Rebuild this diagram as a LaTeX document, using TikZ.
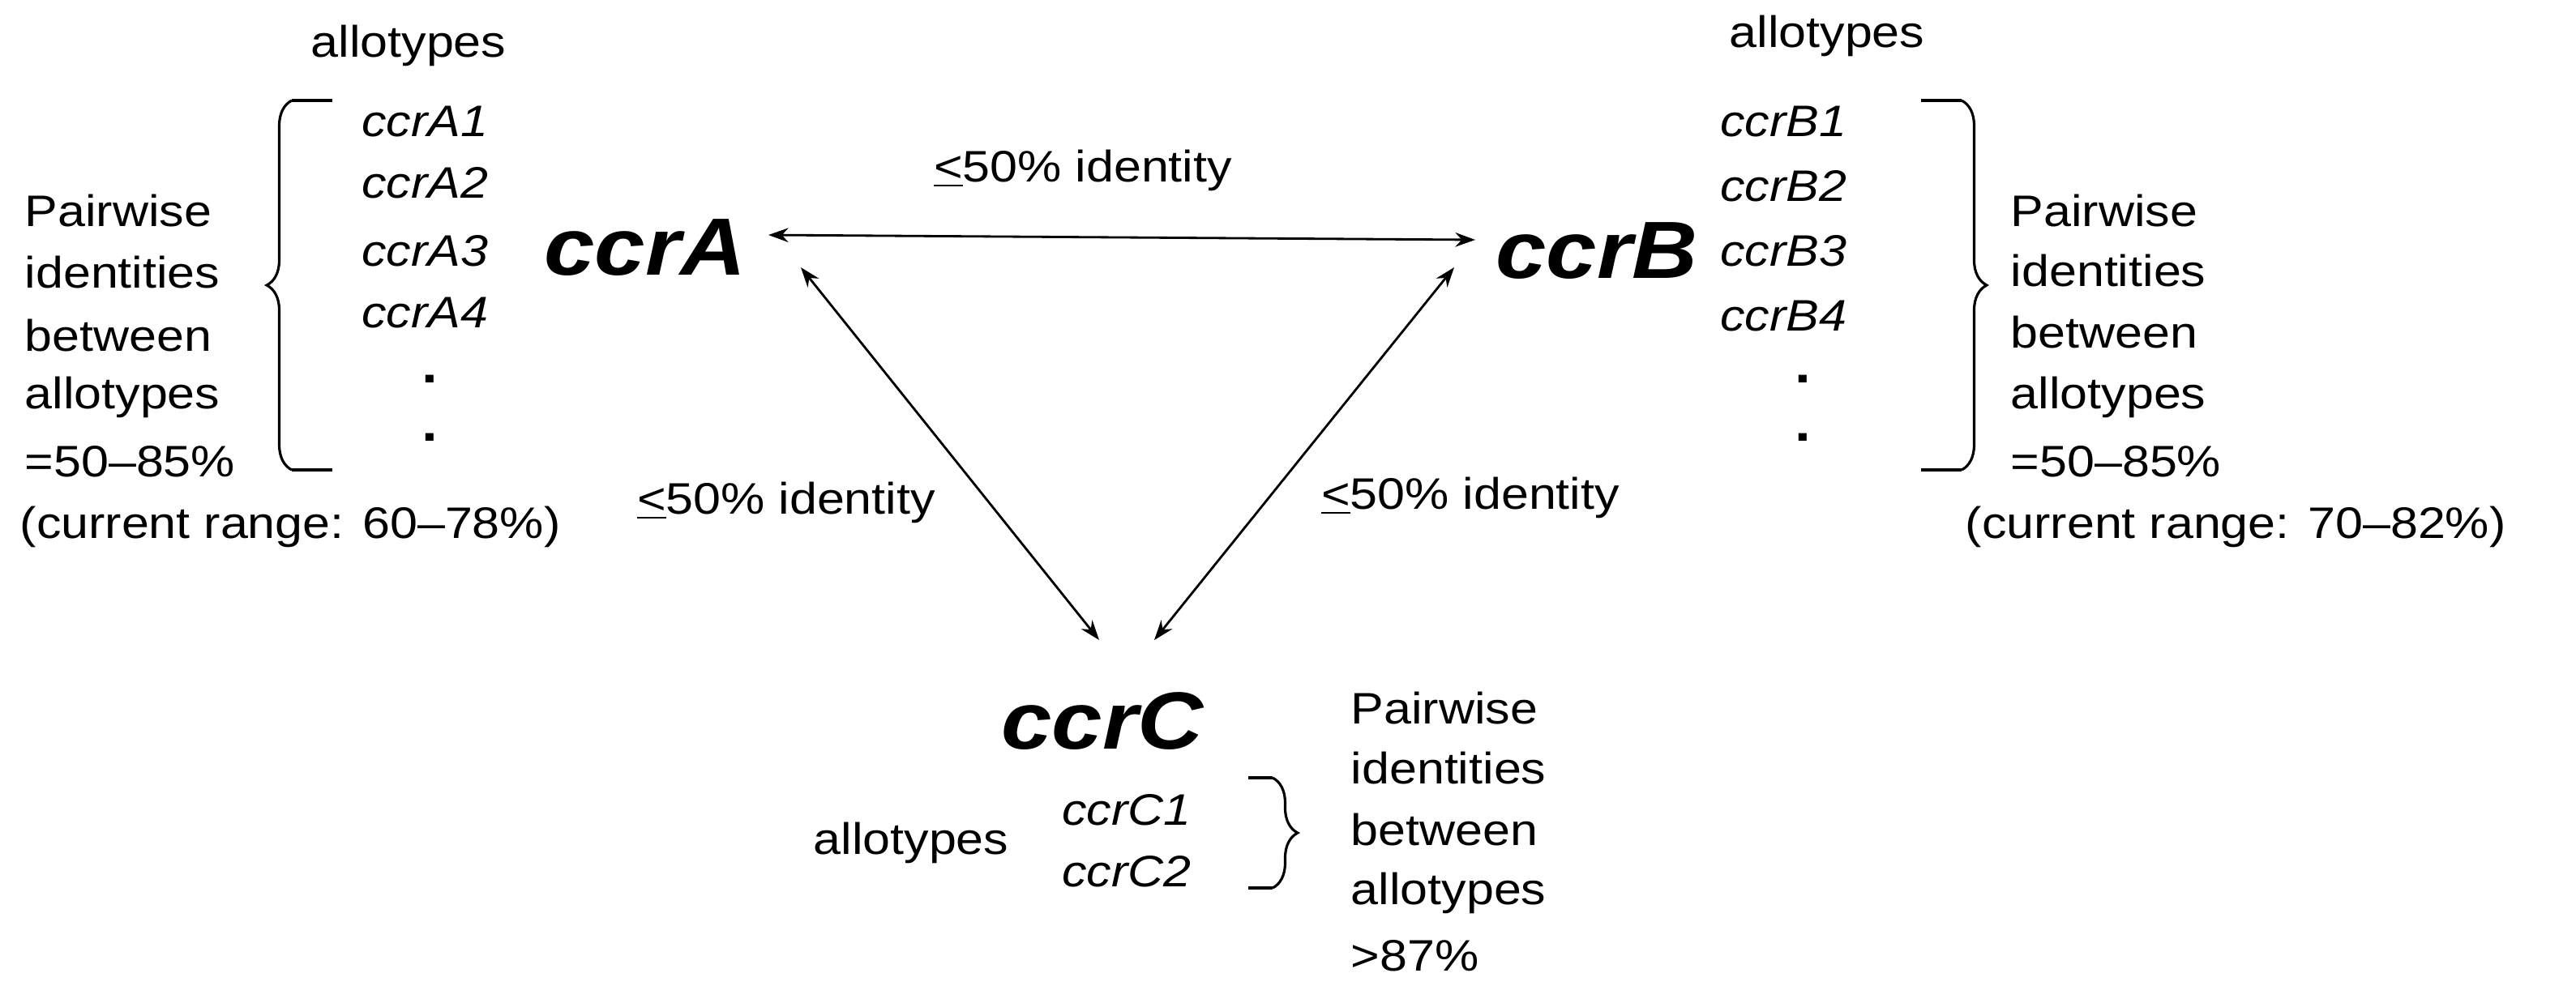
\documentclass[tikz,border=0pt]{standalone}
\usepackage{fontspec}
\setmainfont{Liberation Sans}[FakeStretch=1.12]
\usetikzlibrary{decorations.pathreplacing,arrows.meta}
\begin{document}
\begin{tikzpicture}[x=0.02cm,y=-0.02cm,
 t/.style={font=\fontsize{15.5}{18}\selectfont,inner sep=0pt},
 tl/.style={t,anchor=west},
 al/.style={t,font=\fontsize{15.5}{18}\selectfont\itshape},
 dt/.style={t,font=\fontsize{18}{18}\selectfont\bfseries},
 big/.style={inner sep=0pt,font=\fontsize{28.5}{32}\selectfont\bfseries\itshape},
 br/.style={decorate,decoration={brace,amplitude=22\pgflinewidth,aspect=0.5},line width=0.9pt},
 ar/.style={{Stealth[length=7pt,width=5pt]}-{Stealth[length=7pt,width=5pt]},line width=0.8pt}]
\useasboundingbox (0,0) rectangle (1589,618.5);
% left group
\node[t] (alA) at (252,28) {allotypes};
\foreach \i/\y in {1/75,2/113,3/155,4/193}{\node[al] (A\i) at (262,\y) {ccrA\i};}
\node[dt] (Ad1) at (265,234) {.}; \node[dt] (Ad2) at (265,270) {.};
\coordinate (bA1) at (180,290); \coordinate (bA2) at (180,62);
\draw[br] (bA1) -- (bA2);
\draw[line width=0.9pt] (180,62) -- (205,62) (180,290) -- (205,290);
\foreach \s/\y [count=\k] in {Pairwise/130,identities/168,between/207,allotypes/245,=50--85\%/285}{\node[tl] (LA\k) at (15,\y) {\s};}
\node[tl] (LA6) at (12,325) {(current range: 60--78\%)};
% right group
\node[t] (alB) at (1127,22) {allotypes};
\foreach \i/\y in {1/75,2/115,3/155,4/195}{\node[al] (B\i) at (1100,\y) {ccrB\i};}
\node[dt] (Bd1) at (1112,234) {.}; \node[dt] (Bd2) at (1112,270) {.};
\coordinate (bB1) at (1210,62); \coordinate (bB2) at (1210,290);
\draw[br] (bB1) -- (bB2);
\draw[line width=0.9pt] (1210,62) -- (1185,62) (1210,290) -- (1185,290);
\foreach \s/\y [count=\k] in {Pairwise/130,identities/167,between/205,allotypes/245,=50--85\%/285}{\node[tl] (LB\k) at (1240,\y) {\s};}
\node[tl] (LB6) at (1212,325) {(current range: 70--82\%)};
% main
\node[big] (A) at (398,153) {ccrA};
\node[big] (B) at (985,155) {ccrB};
\node[big] (C) at (680,445) {ccrC};
\coordinate (a1) at (474,145); \coordinate (b1) at (910,148);
\coordinate (a2) at (494,165); \coordinate (c1) at (678,395);
\coordinate (b2) at (897,165); \coordinate (c2) at (712,395);
\draw[ar] (a1) -- (b1);
\draw[ar] (a2) -- (c1);
\draw[ar] (b2) -- (c2);
\node[t] (l1) at (668,105) {\underline{<}50\% identity};
\node[t] (l2) at (485,310) {\underline{<}50\% identity};
\node[t] (l3) at (907,307) {\underline{<}50\% identity};
% C group
\node[al] (C1) at (695,500) {ccrC1};
\node[al] (C2) at (695,538) {ccrC2};
\node[t] (alC) at (562,520) {allotypes};
\coordinate (bC1) at (785,480); \coordinate (bC2) at (785,548);
\draw[br] (bC1) -- (bC2);
\draw[line width=0.9pt] (785,480) -- (770,480) (785,548) -- (770,548);
\foreach \s/\y [count=\k] in {Pairwise/437,identities/474,between/512,allotypes/551,>87\%/590}{\node[tl] (LC\k) at (833,\y) {\s};}
\end{tikzpicture}
\end{document}
